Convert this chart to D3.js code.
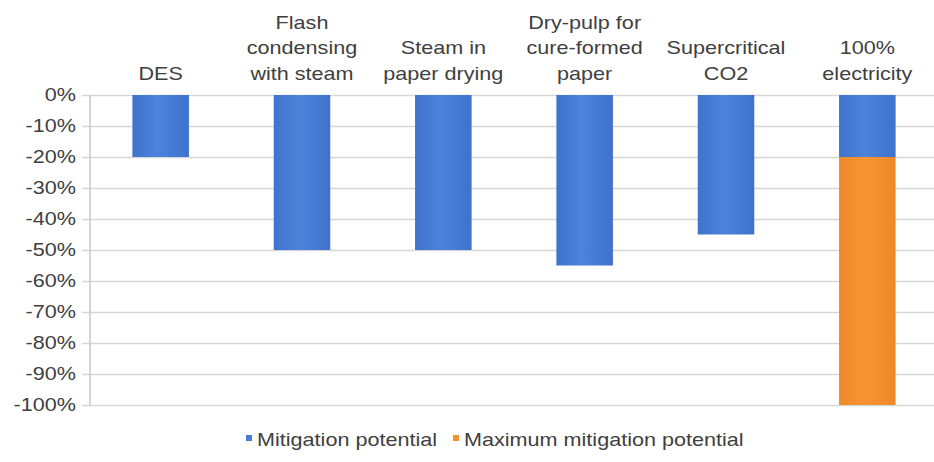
<!DOCTYPE html>
<html>
<head>
<meta charset="utf-8">
<script src="https://cdn.jsdelivr.net/npm/d3@7"></script>
<style>
  html, body { margin: 0; padding: 0; background: #fff; }
  svg { display: block; }
  text { font-family: "Liberation Sans", Arial, Helvetica, sans-serif; fill: #404040; }
</style>
</head>
<body>
<svg id="chart" width="934" height="462"></svg>
<script>
// Technology options (label lines split with "\n")
const categories = [
  "DES",
  "Flash\ncondensing\nwith steam",
  "Steam in\npaper drying",
  "Dry-pulp for\ncure-formed\npaper",
  "Supercritical\nCO2",
  "100%\nelectricity"
];
// Change in emissions, percent
const mitigation    = [-20, -50, -50, -55, -45, -20];
const maxMitigation = [0, 0, 0, 0, 0, -80];
const seriesNames   = ["Mitigation potential", "Maximum mitigation potential"];
const seriesColors  = ["#4a7ed6", "#f5922f"];
const yTicks        = [0, -10, -20, -30, -40, -50, -60, -70, -80, -90, -100];

const svg = d3.select("#chart");
const plotLeft = 90, plotRight = 938, plotTop = 95, plotBottom = 405;
const stretch = 1.2;   // wide type setting used for every label

const x = d3.scaleBand().domain(categories).range([plotLeft, plotRight])
  .paddingInner(0.6).paddingOuter(0.3);
const y = d3.scaleLinear().domain([0, -100]).range([plotTop, plotBottom]);

// Gentle horizontal shading on the bars
const defs = svg.append("defs");
const shade = [["#3f72cc", "#4d83da"], ["#ee892a", "#f79432"]];
shade.forEach((c, i) => {
  const g = defs.append("linearGradient").attr("id", "g" + i)
    .attr("x1", "0%").attr("x2", "100%").attr("y1", "0%").attr("y2", "0%");
  g.append("stop").attr("offset", "0%").attr("stop-color", c[0]);
  g.append("stop").attr("offset", "45%").attr("stop-color", c[1]);
  g.append("stop").attr("offset", "100%").attr("stop-color", c[0]);
});

// Gridlines with short outward ticks
const yAxis = d3.axisLeft(y).tickValues(yTicks).tickFormat(d => d + "%")
  .tickSize(-(940 - plotLeft)).tickPadding(14);
const ga = svg.append("g").attr("transform", `translate(${plotLeft},0)`).call(yAxis);
ga.select(".domain").remove();
ga.selectAll(".tick line").attr("stroke", "#d6d6d6").attr("stroke-width", 1.6)
  .attr("x1", -8);
ga.selectAll(".tick text").style("font-size", "18px").attr("fill", "#404040")
  .attr("x", -14 / stretch).attr("transform", `scale(${stretch},1)`);

// Vertical axis line
svg.append("line").attr("x1", plotLeft).attr("x2", plotLeft)
  .attr("y1", y(0)).attr("y2", y(-100))
  .attr("stroke", "#cacaca").attr("stroke-width", 1.6);

// Stacked bars
const rows = categories.map((c, i) => ({ cat: c, a: mitigation[i], b: maxMitigation[i] }));
const stack = d3.stack().keys(["a", "b"]).offset(d3.stackOffsetDiverging);
const layers = stack(rows);

svg.append("g").selectAll("g").data(layers).join("g")
  .attr("fill", (d, i) => `url(#g${i})`)
  .selectAll("rect").data(d => d.filter(p => p[1] !== p[0])).join("rect")
  .attr("x", d => x(d.data.cat))
  .attr("width", x.bandwidth())
  .attr("y", d => y(Math.max(d[0], d[1])))
  .attr("height", d => Math.abs(y(d[0]) - y(d[1])));

// Category labels above the plot
const lineH = 25.5;
svg.append("g").selectAll("text").data(categories).join("text")
  .attr("text-anchor", "middle")
  .style("font-size", "18px")
  .attr("transform", d => `translate(${x(d) + x.bandwidth() / 2},0) scale(${stretch},1)`)
  .each(function(d) {
    const lines = d.split("\n");
    const t = d3.select(this);
    lines.forEach((ln, k) => {
      t.append("tspan").attr("x", 0)
        .attr("y", 80 - (lines.length - 1 - k) * lineH).text(ln);
    });
  });

// Legend
const legend = svg.append("g").attr("transform", "translate(0,446)");
const legX = [246, 453];
seriesNames.forEach((name, i) => {
  legend.append("rect").attr("x", legX[i]).attr("y", -11).attr("width", 6).attr("height", 6)
    .attr("fill", seriesColors[i]);
  legend.append("text")
    .attr("transform", `translate(${legX[i] + 11},0) scale(${stretch},1)`)
    .style("font-size", "18px").text(name);
});
</script>
</body>
</html>
